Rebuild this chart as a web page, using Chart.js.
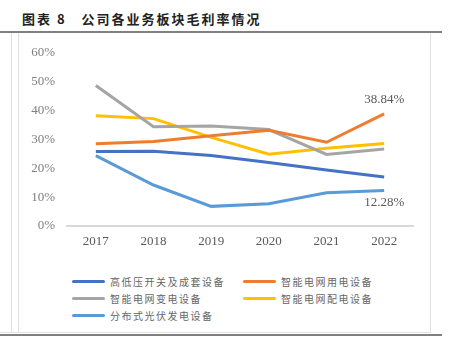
<!DOCTYPE html>
<html>
<head>
<meta charset="utf-8">
<script src="https://cdn.jsdelivr.net/npm/chart.js@4"></script>
<style>
  body { margin: 0; width: 450px; height: 348px; background: #fff; position: relative; overflow: hidden; font-family: "Noto Sans CJK SC", sans-serif; }
  #title { position: absolute; left: 22px; top: 9px; font-size: 13px; font-weight: bold; color: #222; letter-spacing: 2px; white-space: nowrap; }
  #topline { position: absolute; left: 0; top: 31px; width: 442px; height: 2px; background: #808080; }
  #botline { position: absolute; left: 0; top: 334px; width: 442px; height: 2px; background: #808080; }
  #lightbot { position: absolute; left: 0; top: 332px; width: 430px; height: 1px; background: #e0e0e0; }
  .vline { position: absolute; top: 33px; width: 1px; height: 300px; background: #e0e0e0; }
  #wrap { position: absolute; left: 19px; top: 33px; width: 411px; height: 225px; }
  #legend { position: absolute; left: 72px; top: 274px; width: 360px; }
  .item { position: absolute; display: flex; align-items: center; font-size: 10px; color: #666; letter-spacing: 1.5px; white-space: nowrap; }
  .swatch { width: 33px; height: 3px; border-radius: 2px; margin-right: 5px; }
</style>
</head>
<body>
<div id="title">图表 8&nbsp;&nbsp;&nbsp;公司各业务板块毛利率情况</div>
<div id="topline"></div>
<div class="vline" style="left:11px"></div>
<div class="vline" style="left:18px"></div>
<div class="vline" style="left:430px"></div>
<div id="lightbot"></div>
<div id="botline"></div>
<div id="wrap"><canvas id="c" width="411" height="225"></canvas></div>
<div id="legend"></div>
<script>
// data
const years = ['2017', '2018', '2019', '2020', '2021', '2022'];
const yTicks = [0, 10, 20, 30, 40, 50, 60];
const switchgear = [25.8, 25.9, 24.4, 22.0, 19.4, 17.0];
const gridUse = [28.5, 29.3, 31.3, 33.2, 29.0, 38.84];
const gridTransform = [48.7, 34.4, 34.6, 33.4, 24.8, 26.7];
const gridDistrib = [38.2, 37.2, 30.7, 24.9, 26.9, 28.6];
const solar = [24.4, 14.2, 6.8, 7.7, 11.5, 12.28];

const names = ['高低压开关及成套设备', '智能电网用电设备', '智能电网变电设备', '智能电网配电设备', '分布式光伏发电设备'];
const colors = ['#4472C4', '#ED7D31', '#A5A5A5', '#FFC000', '#5B9BD5'];
const series = [switchgear, gridUse, gridTransform, gridDistrib, solar];

// only two points carry a label in the original
const pointLabels = [
  { ds: 1, idx: 5, text: '38.84%', pos: 'above' },
  { ds: 4, idx: 5, text: '12.28%', pos: 'below' }
];

const labelPlugin = {
  id: 'pointLabels',
  afterDatasetsDraw(chart) {
    const ctx = chart.ctx;
    ctx.save();
    ctx.font = '13px "Liberation Serif", serif';
    ctx.fillStyle = '#595959';
    ctx.textAlign = 'center';
    pointLabels.forEach(l => {
      const pt = chart.getDatasetMeta(l.ds).data[l.idx];
      if (l.pos === 'above') {
        ctx.textBaseline = 'bottom';
        ctx.fillText(l.text, pt.x, pt.y - 8);
      } else {
        ctx.textBaseline = 'top';
        ctx.fillText(l.text, pt.x, pt.y + 6);
      }
    });
    ctx.restore();
  }
};

const chart = new Chart(document.getElementById('c'), {
  type: 'line',
  data: {
    labels: years,
    datasets: series.map((d, i) => ({
      label: names[i],
      data: d,
      borderColor: colors[i],
      backgroundColor: colors[i],
      borderWidth: 3,
      pointRadius: 0,
      tension: 0
    }))
  },
  options: {
    responsive: false,
    animation: false,
    layout: { padding: { top: 17, right: 17, left: 0, bottom: 0 } },
    plugins: { legend: { display: false }, tooltip: { enabled: false } },
    scales: {
      x: {
        offset: true,
        grid: { display: false, drawTicks: false },
        border: { color: '#D9D9D9', width: 2 },
        ticks: { color: '#595959', font: { family: '"Liberation Serif", serif', size: 13 }, padding: 8 },
        afterFit(s) { s.height = 32; }
      },
      y: {
        min: 0, max: 60,
        afterBuildTicks(s) { s.ticks = yTicks.map(v => ({ value: v })); },
        grid: { display: false, drawTicks: false },
        border: { display: false },
        ticks: {
          color: '#7f7f7f',
          font: { family: '"Liberation Serif", serif', size: 13 },
          padding: 12,
          callback: v => v + '%'
        },
        afterFit(s) { s.width = 48; }
      }
    }
  },
  plugins: [labelPlugin]
});

// html legend in two columns, built from the datasets
const legend = document.getElementById('legend');
const slots = [[0, 0], [171, 0], [0, 17], [171, 17], [0, 34]];
chart.data.datasets.forEach((ds, i) => {
  const el = document.createElement('div');
  el.className = 'item';
  el.style.left = slots[i][0] + 'px';
  el.style.top = slots[i][1] + 'px';
  el.innerHTML = '<span class="swatch" style="background:' + ds.borderColor + '"></span>' + ds.label;
  legend.appendChild(el);
});
</script>
</body>
</html>
